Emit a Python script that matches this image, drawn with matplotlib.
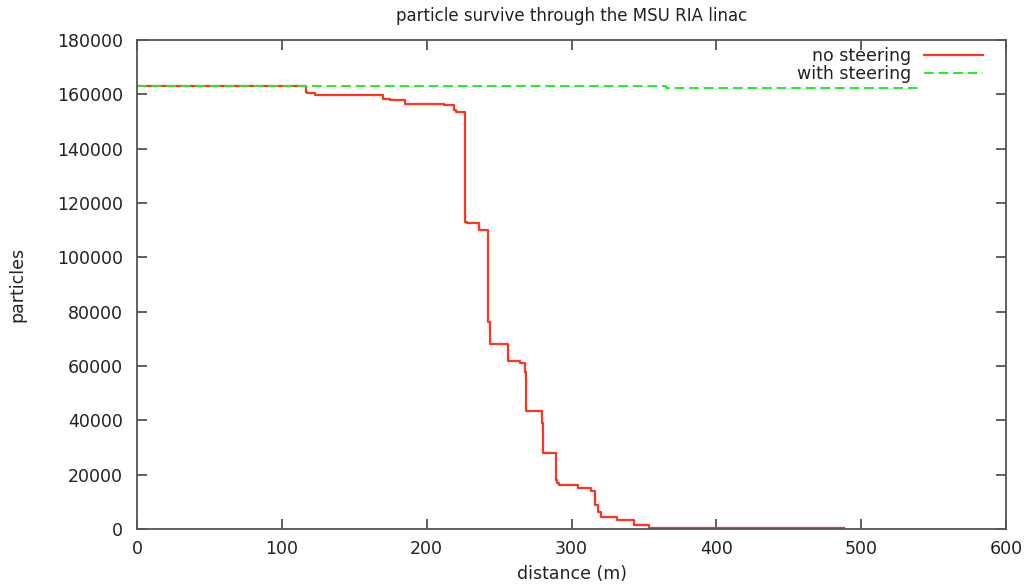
import matplotlib
matplotlib.use("Agg")
import matplotlib.pyplot as plt

# Surviving particle count along the linac (step data)
dist_no_steer = [0, 116.7, 117.6, 122.8, 132.6, 169.6, 174.7, 185.0, 212.2, 219.2,
                 220.2, 226.5, 228.0, 236.4, 242.6, 243.5, 256.4, 264.5, 268.0, 268.7,
                 279.4, 280.5, 289.4, 290.2, 291.5, 304.5, 313.8, 316.0, 318.2, 320.7,
                 331.2, 342.8, 353.8, 488.0]
count_no_steer = [163000, 161000, 160400, 159900, 159600, 158300, 157900, 156400, 156100, 154200,
                  153500, 113100, 112700, 110100, 76300, 68100, 62000, 61200, 57700, 43500,
                  39100, 28100, 18000, 16800, 16300, 15000, 14000, 9000, 6400, 4500,
                  3300, 1500, 200, 200]

dist_steer = [0, 365.5, 541.0]
count_steer = [163000, 162300, 162300]

x_ticks = [0, 100, 200, 300, 400, 500, 600]
y_ticks = [0, 20000, 40000, 60000, 80000, 100000, 120000, 140000, 160000, 180000]

plt.rcParams['font.family'] = ['DejaVu Sans']

fig = plt.figure(figsize=(10.33, 5.84), dpi=100)
ax = fig.add_axes([0.1326, 0.0942, 0.8413, 0.8373])

ax.plot(dist_no_steer, count_no_steer, drawstyle='steps-post', color='#ff3320',
        lw=1.6, label='no steering')
ax.plot(dist_steer, count_steer, drawstyle='steps-post', color='#22ee22',
        lw=1.4, dashes=(5, 2.5), label='with steering')

ax.set_xlim(0, 600)
ax.set_ylim(0, 180000)
ax.set_xticks(x_ticks)
ax.set_yticks(y_ticks)
ax.set_xticklabels([str(t) for t in x_ticks])
ax.set_yticklabels([str(t) for t in y_ticks])

ax.tick_params(direction='in', length=7, width=1.2, top=True, right=True,
               labelsize=12.5, colors='#444444', labelcolor='#222222')
ax.tick_params(axis='x', pad=8)
ax.tick_params(axis='y', pad=10)
for sp in ax.spines.values():
    sp.set_color('#555555')
    sp.set_linewidth(1.3)

ax.set_title('particle survive through the MSU RIA linac', fontsize=12,
             pad=14, color='#222222')
ax.set_xlabel('distance (m)', fontsize=12.5, labelpad=5, color='#222222')
ax.set_ylabel('particles', fontsize=12.5, labelpad=22, color='#222222')

leg = ax.legend(loc='upper right', frameon=False, markerfirst=False, fontsize=12.5,
                handlelength=3.45, handletextpad=0.7, labelspacing=0.0,
                borderaxespad=0.3, bbox_to_anchor=(0.988, 1.011))
for t in leg.get_texts():
    t.set_color('#222222')

fig.savefig('out.png', dpi=100)
